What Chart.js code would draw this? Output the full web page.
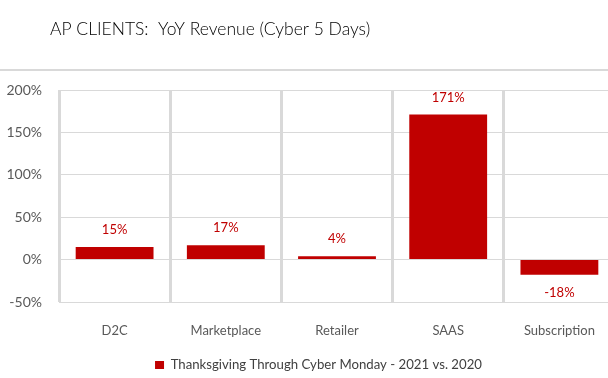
<!DOCTYPE html>
<html>
<head>
<meta charset="utf-8">
<script src="https://cdn.jsdelivr.net/npm/chart.js@4/dist/chart.umd.min.js"></script>
<style>
html,body{margin:0;padding:0;background:#fff;overflow:hidden;}
#wrap{width:608px;height:378px;overflow:hidden;position:relative;}
canvas{display:block;}
</style>
</head>
<body>
<div id="wrap"><canvas id="c" width="615" height="378"></canvas></div>
<script>
const titleText = 'AP CLIENTS:  YoY Revenue (Cyber 5 Days)';
const seriesLabel = 'Thanksgiving Through Cyber Monday - 2021 vs. 2020';
const categories = ['D2C', 'Marketplace', 'Retailer', 'SAAS', 'Subscription'];
const values = [15, 17, 4, 171, -18];
const yTicks = [-50, 0, 50, 100, 150, 200];

const FONT = 'Lato';
const RED = '#c00000';
const GRID = '#d9d9d9';
const TICK = '#595959';

const valueLabels = {
  id: 'valueLabels',
  afterDatasetsDraw(chart) {
    const ctx = chart.ctx;
    const meta = chart.getDatasetMeta(0);
    ctx.save();
    ctx.font = '13px ' + FONT;
    ctx.fillStyle = RED;
    ctx.textAlign = 'center';
    ctx.textBaseline = 'middle';
    meta.data.forEach((bar, i) => {
      const v = values[i];
      const y = v >= 0 ? bar.y - 17 : bar.y + 18;
      ctx.fillText(v + '%', bar.x, y);
    });
    ctx.restore();
  }
};

const frame = {
  id: 'frame',
  afterLayout(chart) {
    if (chart.titleBlock) chart.titleBlock.left = 50;
    if (chart.legend) chart.legend.left = 22;
  },
  beforeDraw(chart) {
    const ctx = chart.ctx;
    ctx.save();
    ctx.fillStyle = GRID;
    ctx.fillRect(0, 69, chart.width, 2);
    ctx.restore();
  }
};

new Chart(document.getElementById('c'), {
  type: 'bar',
  data: {
    labels: categories,
    datasets: [{
      label: seriesLabel,
      data: values,
      backgroundColor: RED,
      borderWidth: 0,
      barPercentage: 0.7,
      categoryPercentage: 1.0
    }]
  },
  options: {
    responsive: false,
    animation: false,
    layout: { padding: { left: 0, right: 0, top: 0, bottom: -3.6 } },
    plugins: {
      tooltip: { enabled: false },
      title: {
        display: true,
        text: titleText,
        align: 'start',
        color: '#000000',
        font: { family: FONT, size: 17.5, weight: '300' },
        padding: { top: 18.5, bottom: 50.5 }
      },
      legend: {
        display: true,
        position: 'bottom',
        align: 'center',
        labels: {
          boxWidth: 9,
          boxHeight: 8,
          padding: 19.6,
          color: '#404040',
          font: { family: FONT, size: 13.2 }
        }
      }
    },
    scales: {
      x: {
        type: 'category',
        position: 'bottom',
        grid: {
          offset: true,
          color: GRID,
          lineWidth: 3,
          drawTicks: true,
          tickLength: 21.2,
          tickColor: 'rgba(0,0,0,0)'
        },
        border: { display: false },
        ticks: {
          autoSkip: false,
          maxRotation: 0,
          padding: 0,
          color: TICK,
          font: { family: FONT, size: 13 }
        }
      },
      y: {
        min: -50,
        max: 200,
        afterFit: (scale) => { scale.width = 59; },
        afterBuildTicks: (scale) => { scale.ticks = yTicks.map(v => ({ value: v })); },
        grid: { color: GRID, lineWidth: 1, drawTicks: false },
        border: { display: false },
        ticks: {
          padding: 17,
          color: TICK,
          font: { family: FONT, size: 14 },
          callback: (v) => v + '%'
        }
      }
    }
  },
  plugins: [valueLabels, frame]
});
</script>
</body>
</html>
